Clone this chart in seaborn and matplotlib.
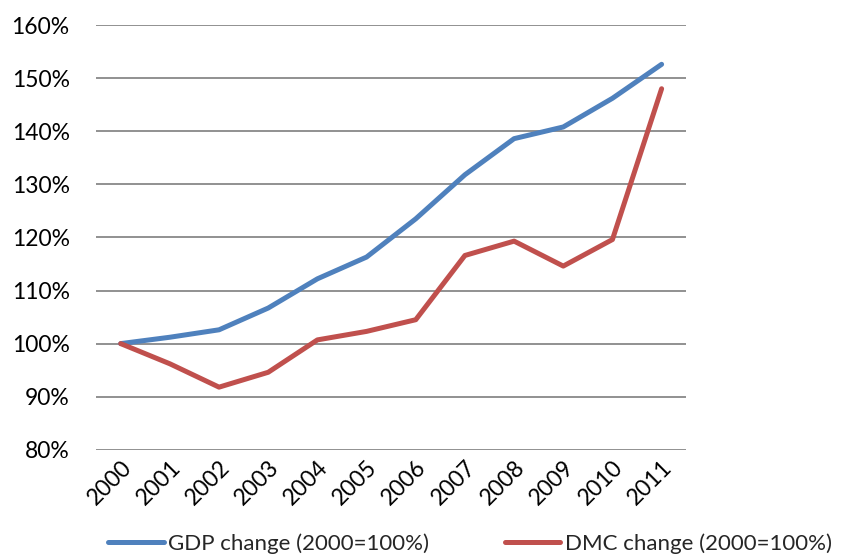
import pandas as pd
import matplotlib.pyplot as plt
import seaborn as sns
from matplotlib.ticker import FuncFormatter

years = ['2000', '2001', '2002', '2003', '2004', '2005',
         '2006', '2007', '2008', '2009', '2010', '2011']
gdp_change = [100.0, 101.2, 102.6, 106.7, 112.2, 116.3,
              123.5, 131.8, 138.6, 140.8, 146.2, 152.6]
dmc_change = [100.0, 96.2, 91.8, 94.6, 100.7, 102.3,
              104.5, 116.6, 119.3, 114.6, 119.6, 148.0]

sns.set_style('white')
plt.rcParams['font.family'] = ['Lato', 'DejaVu Sans']

df = pd.DataFrame({'x': range(len(years)), 'gdp': gdp_change, 'dmc': dmc_change})

fig = plt.figure(figsize=(8.43, 5.56), dpi=100)
ax = fig.add_axes([0.114, 0.191, 0.700, 0.764])

sns.lineplot(data=df, x='x', y='gdp', ax=ax, color='#4F81BD', linewidth=3.6,
             label='GDP change (2000=100%)')
sns.lineplot(data=df, x='x', y='dmc', ax=ax, color='#C0504D', linewidth=3.6,
             label='DMC change (2000=100%)')

ax.set_ylim(80, 160)
ax.set_yticks(range(80, 161, 10))
ax.yaxis.set_major_formatter(FuncFormatter(lambda v, p: f'{v:.0f}%'))
ax.set_xlim(-0.5, len(years) - 0.5)
ax.set_xticks(range(len(years)))
ax.set_xticklabels(years, rotation=45, ha='right', va='top', rotation_mode='anchor')
ax.tick_params(axis='both', labelsize=16.5, length=0, colors='#000000')
ax.tick_params(axis='y', pad=19)
ax.tick_params(axis='x', pad=5)
ax.set_xlabel('')
ax.set_ylabel('')

ax.grid(axis='y', color='#888888', linewidth=1.3)
for s in ax.spines.values():
    s.set_visible(False)

handles, labels = ax.get_legend_handles_labels()
ax.get_legend().remove()
fig.legend(handles, labels, loc='center left', bbox_to_anchor=(0.115, 0.022), ncol=2,
           frameon=False, fontsize=16, handlelength=2.5, handletextpad=0.2,
           columnspacing=3.4, borderpad=0)

fig.savefig('out.png', dpi=100)
